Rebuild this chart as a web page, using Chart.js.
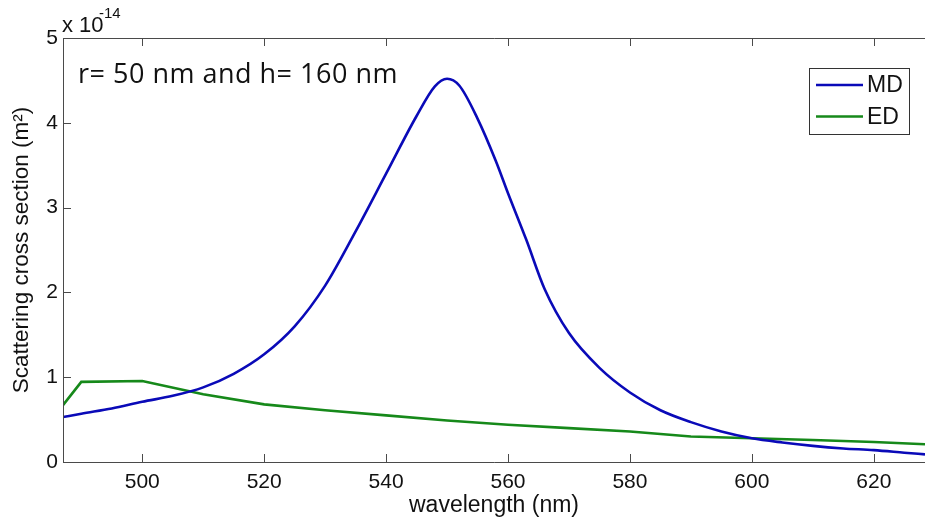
<!DOCTYPE html>
<html>
<head>
<meta charset="utf-8">
<script src="https://cdn.jsdelivr.net/npm/chart.js@4"></script>
<style>
  html, body { margin: 0; padding: 0; background: #fff; }
  canvas { display: block; }
</style>
</head>
<body>
<canvas id="scatter-chart" width="925" height="519"></canvas>
<script>
// values in units of 1e-14 m^2
const wavelengthMD = [487, 490, 495, 500, 505, 510, 515, 520, 525, 530, 535, 540, 545, 548, 550, 552, 555, 558, 560, 563, 566, 570, 575, 580, 585, 590, 595, 600, 605, 610, 615, 620, 625, 628.4];
const scatteringMD = [0.53, 0.57, 0.63, 0.71, 0.78, 0.88, 1.04, 1.27, 1.6, 2.08, 2.72, 3.4, 4.08, 4.43, 4.52, 4.44, 4.05, 3.55, 3.17, 2.62, 2.04, 1.52, 1.11, 0.82, 0.61, 0.47, 0.36, 0.28, 0.23, 0.19, 0.16, 0.14, 0.11, 0.09];

const wavelengthED = [487, 490, 500, 510, 520, 530, 540, 550, 560, 570, 580, 590, 600, 610, 620, 628.4];
const scatteringED = [0.67, 0.945, 0.955, 0.8, 0.68, 0.61, 0.55, 0.49, 0.44, 0.4, 0.36, 0.3, 0.28, 0.26, 0.235, 0.21];

const xTicks = [500, 520, 540, 560, 580, 600, 620];
const yTicks = [0, 1, 2, 3, 4, 5];

const axisColor = '#4a4a4a';
const textColor = '#111';

const toPoints = (xs, ys) => xs.map((x, i) => ({ x: x, y: ys[i] }));

// box, inward ticks, legend and text labels
const framePlugin = {
    id: 'frame',
    afterDraw(chart) {
        const ctx = chart.ctx;
        const { left, right, top, bottom } = chart.chartArea;
        const xs = chart.scales.x;
        const ys = chart.scales.y;
        ctx.save();
        ctx.strokeStyle = axisColor;
        ctx.lineWidth = 1;
        ctx.beginPath();
        ctx.moveTo(left + 0.5, top + 0.5);
        ctx.lineTo(right, top + 0.5);
        ctx.moveTo(left + 0.5, top);
        ctx.lineTo(left + 0.5, bottom + 0.5);
        ctx.lineTo(right, bottom + 0.5);
        xTicks.forEach(v => {
            const px = Math.round(xs.getPixelForValue(v)) + 0.5;
            ctx.moveTo(px, bottom);
            ctx.lineTo(px, bottom - 8);
            ctx.moveTo(px, top);
            ctx.lineTo(px, top + 8);
        });
        yTicks.forEach(v => {
            const py = Math.round(ys.getPixelForValue(v)) + 0.5;
            ctx.moveTo(left, py);
            ctx.lineTo(left + 8, py);
        });
        ctx.stroke();

        // exponent label
        ctx.fillStyle = textColor;
        ctx.textBaseline = 'alphabetic';
        ctx.textAlign = 'left';
        ctx.font = '22px "Liberation Sans", Arial, sans-serif';
        ctx.fillText('x 10', left - 1, top - 6);
        ctx.font = '15px "Liberation Sans", Arial, sans-serif';
        ctx.fillText('-14', left + 36, top - 20);

        // annotation
        ctx.font = '27px "Open Sans", Lato, sans-serif';
        ctx.letterSpacing = '0.5px';
        ctx.fillText('r= 50 nm and h= 160 nm', left + 15, top + 45);
        ctx.letterSpacing = '0px';

        // legend
        const lx = right - 116, ly = top + 30, lw = 100, lh = 66;
        ctx.fillStyle = '#fff';
        ctx.fillRect(lx, ly, lw, lh);
        ctx.strokeStyle = '#333';
        ctx.strokeRect(lx + 0.5, ly + 0.5, lw, lh);
        ctx.font = '23px "Liberation Sans", Arial, sans-serif';
        ctx.textBaseline = 'middle';
        chart.data.datasets.forEach((ds, i) => {
            const yy = ly + 17 + i * 31.5;
            ctx.strokeStyle = ds.borderColor;
            ctx.lineWidth = 2.5;
            ctx.beginPath();
            ctx.moveTo(lx + 7, yy);
            ctx.lineTo(lx + 54, yy);
            ctx.stroke();
            ctx.fillStyle = textColor;
            ctx.fillText(ds.label, lx + 58, yy + 1);
        });
        ctx.restore();
    }
};

const ctx = document.getElementById('scatter-chart').getContext('2d');
const scatterChart = new Chart(ctx, {
    type: 'line',
    data: {
        datasets: [{
            label: 'MD',
            data: toPoints(wavelengthMD, scatteringMD),
            borderColor: '#0a0ab8',
            borderWidth: 2.6,
            pointRadius: 0,
            cubicInterpolationMode: 'monotone',
            fill: false
        }, {
            label: 'ED',
            data: toPoints(wavelengthED, scatteringED),
            borderColor: '#16891a',
            borderWidth: 2.6,
            pointRadius: 0,
            tension: 0,
            fill: false
        }]
    },
    options: {
        responsive: false,
        animation: false,
        devicePixelRatio: 1,
        layout: { padding: { top: 38, right: 0, left: 0, bottom: 0 } },
        plugins: {
            legend: { display: false },
            tooltip: { enabled: false }
        },
        scales: {
            x: {
                type: 'linear',
                min: 487,
                max: 628.4,
                afterFit: s => { s.height = 57; },
                afterBuildTicks: s => { s.ticks = xTicks.map(v => ({ value: v })); },
                grid: { display: false, drawTicks: false },
                border: { display: false },
                ticks: {
                    color: textColor,
                    padding: 8,
                    maxRotation: 0,
                    font: { family: '"Liberation Sans", Arial, sans-serif', size: 21 }
                },
                title: {
                    display: true,
                    text: 'wavelength (nm)',
                    color: textColor,
                    padding: 0,
                    font: { family: '"Liberation Sans", Arial, sans-serif', size: 23 }
                }
            },
            y: {
                min: 0,
                max: 5,
                afterFit: s => { s.width = 63; },
                afterBuildTicks: s => { s.ticks = yTicks.map(v => ({ value: v })); },
                grid: { display: false, drawTicks: false },
                border: { display: false },
                ticks: {
                    color: textColor,
                    padding: 5,
                    font: { family: '"Liberation Sans", Arial, sans-serif', size: 21 }
                },
                title: {
                    display: true,
                    text: 'Scattering cross section (m²)',
                    color: textColor,
                    padding: { top: 8, bottom: 0 },
                    font: { family: '"Liberation Sans", Arial, sans-serif', size: 22.5 }
                }
            }
        }
    },
    plugins: [framePlugin]
});
</script>
</body>
</html>
